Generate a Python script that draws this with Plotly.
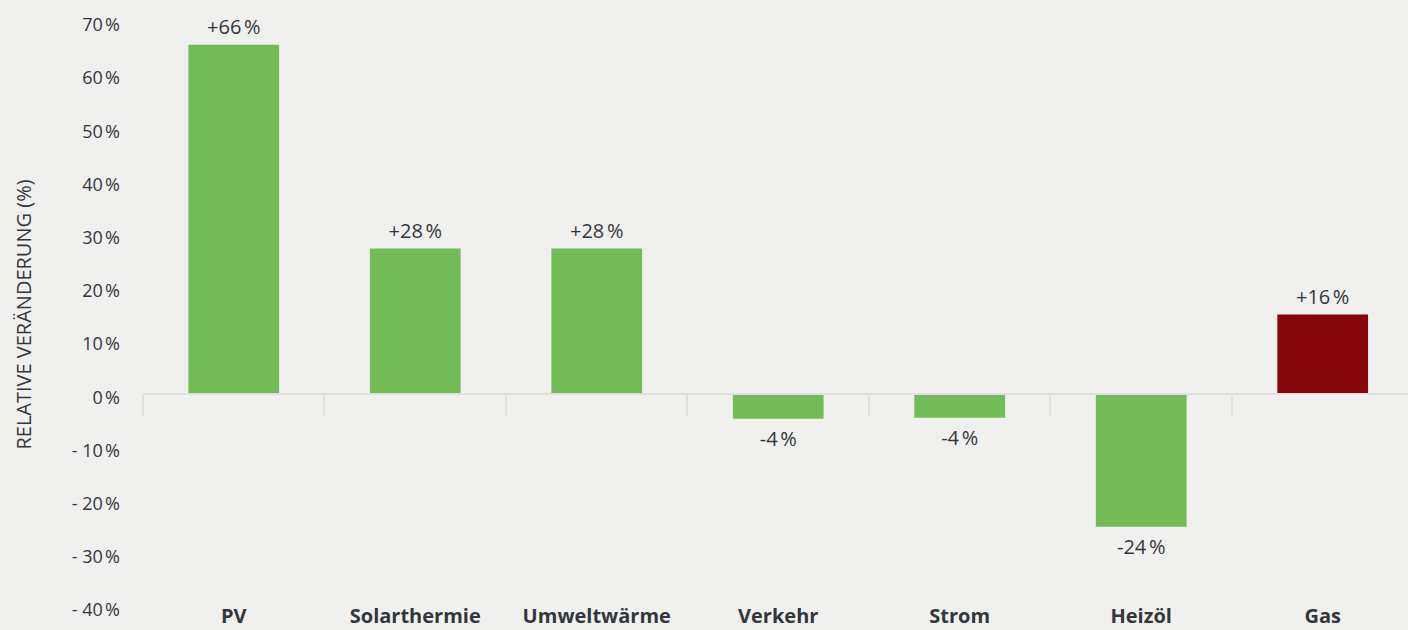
import plotly.graph_objects as go

categories = ["PV", "Solarthermie", "Umweltwärme", "Verkehr", "Strom", "Heizöl", "Gas"]
values = [65.7, 27.4, 27.4, -4.6, -4.4, -24.9, 15.0]
bar_labels = ["+66\u202f%", "+28\u202f%", "+28\u202f%", "-4\u202f%", "-4\u202f%", "-24\u202f%", "+16\u202f%"]
colors = ["#72bb57", "#72bb57", "#72bb57", "#72bb57", "#72bb57", "#72bb57", "#87060b"]
y_ticks = [70, 60, 50, 40, 30, 20, 10, 0, -10, -20, -30, -40]
y_ticktext = ["70\u202f%", "60\u202f%", "50\u202f%", "40\u202f%", "30\u202f%", "20\u202f%", "10\u202f%", "0\u202f%",
              "- 10\u202f%", "- 20\u202f%", "- 30\u202f%", "- 40\u202f%"]

BG = "#f0f1ee"
TXT = "#33373d"
FONT = "Open Sans"
y_range = [-40, 70]
x_range = [-0.5, 6.47]

fig = go.Figure()
# invisible trace to activate the zero-line axis (xaxis2)
fig.add_trace(go.Scatter(x=[categories[0]], y=[0], xaxis="x2", mode="markers",
                         marker=dict(opacity=0), hoverinfo="skip"))
fig.add_trace(go.Bar(
    x=categories, y=values, width=0.5,
    marker=dict(color=colors, line=dict(width=0)),
    hoverinfo="skip",
))
# data labels
fig.add_trace(go.Scatter(
    x=categories, y=values, mode="markers+text",
    marker=dict(size=[8 if v >= 0 else 18 for v in values], opacity=0),
    text=bar_labels,
    textposition=["top center" if v >= 0 else "bottom center" for v in values],
    textfont=dict(family=FONT, size=20, color=TXT),
    cliponaxis=False, hoverinfo="skip",
))

zero_pos = (0 - y_range[0]) / (y_range[1] - y_range[0])

fig.update_layout(
    width=1408, height=630,
    paper_bgcolor=BG, plot_bgcolor=BG,
    margin=dict(l=143, r=0, t=22, b=23),
    showlegend=False,
    font=dict(family=FONT, color=TXT, size=18),
    xaxis=dict(
        type="category", categoryorder="array", categoryarray=categories,
        range=x_range,
        tickfont=dict(family=FONT, size=20, color=TXT, weight="bold"),
        showgrid=False, zeroline=False, showline=False, ticks="",
        ticklabelstandoff=-5,
    ),
    xaxis2=dict(
        type="category", categoryorder="array", categoryarray=categories,
        range=x_range, overlaying="x", anchor="free", position=zero_pos,
        tickson="boundaries", ticks="outside", ticklen=21, tickwidth=1.5,
        tickcolor="#dfe1df", showline=True, linecolor="#dfe1df", linewidth=1.5,
        showgrid=False, zeroline=False, showticklabels=False, side="bottom",
    ),
    yaxis=dict(
        range=y_range, tickmode="array", tickvals=y_ticks, ticktext=y_ticktext,
        tickfont=dict(family=FONT, size=18, color=TXT),
        showgrid=False, zeroline=False, showline=False, ticks="",
        ticklabelstandoff=22, ticklabelshift=3,
        title=dict(text="RELATIVE VERÄNDERUNG (%)", standoff=34,
                   font=dict(family=FONT, size=20, color=TXT)),
    ),
)

fig.write_html("out.html", config={"displayModeBar": False})
with open("out.html", encoding="utf-8") as f:
    html = f.read()
html = html.replace("<body>", '<body style="margin:0;padding:0;">', 1)
with open("out.html", "w", encoding="utf-8") as f:
    f.write(html)
